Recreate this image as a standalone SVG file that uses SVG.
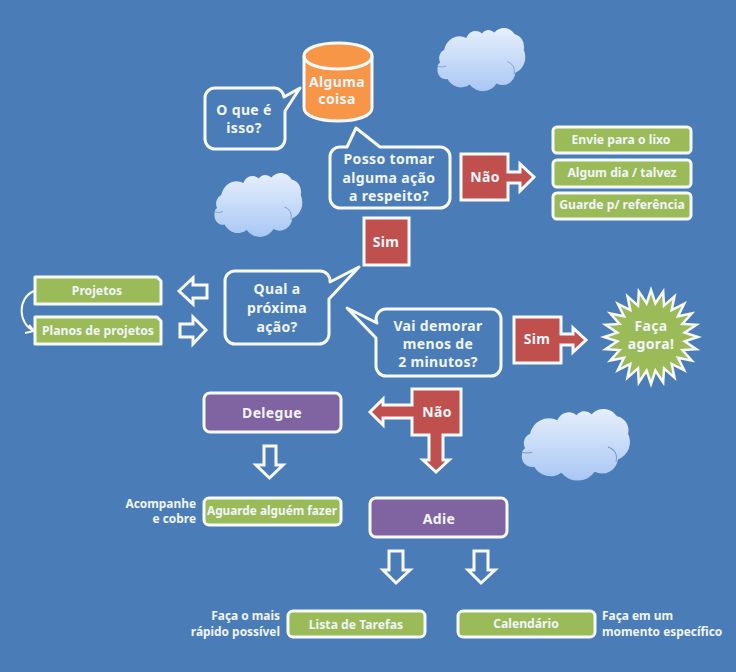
<svg xmlns="http://www.w3.org/2000/svg" width="736" height="672" viewBox="0 0 736 672">
<style>
text{font-family:"Noto Sans","DejaVu Sans",sans-serif;font-weight:700;fill:#f1f5fa;text-anchor:middle}
.m{font-size:14px;letter-spacing:.35px}.s{font-size:12.200px}.n{font-size:11.900px}
.a{font-size:11.800px}
.r{text-anchor:end}.l{text-anchor:start}
.w{stroke:#f7f9fb;stroke-width:3;stroke-linejoin:round}
.b{fill:#4a7db8}.red{fill:#c0504d;stroke-linejoin:miter}.g{fill:#9bbb59}.p{fill:#8064a2}.o{fill:#f79646}
.star{stroke-linejoin:miter;stroke-miterlimit:10;stroke-width:2.500px}
.h{fill:#4a7db8;stroke:#f7f9fb;stroke-width:3;stroke-linejoin:miter}
.c{fill:none;stroke:#f7f9fb;stroke-width:2}
</style>
<defs>
<linearGradient id="cg" x1="0" y1="0" x2="0" y2="1"><stop offset="0" stop-color="#e6effc"/><stop offset="1" stop-color="#a9c7f4"/></linearGradient>
<g id="cloud">
<path fill="url(#cg)" d="M10 24A19 19 0 0 1 37 11A12 12 0 0 1 56 6A10 10 0 0 1 71 5A16 16 0 0 1 96 7A14 14 0 0 1 107 24A18 18 0 0 1 97 49A16 16 0 0 1 74 61A21 21 0 0 1 41 62A19 19 0 0 1 14 56A10 10 0 0 1 2 44C2 40 3 40 5 38A10 10 0 0 1 10 24Z"/>
<path fill="none" stroke="#6f9bd2" stroke-width="1" d="M87 37C93 39 97 43 95 51M2 42C6 43 8 43 12 42"/>
</g>
</defs>
<rect id="background" width="736" height="672" fill="#4a7db8"/>
<g id="connectors">
<path class="h" d="M179 291L193 278V285H207V298H193V304Z"/>
<path class="h" d="M180 324H193V317L206 330L193 344V337H180Z"/>
<path class="h" d="M264 446H276V465H283L269.500 478L256 465H264Z"/>
<path class="h" d="M389 551H403V570H410L396 583L383 570H389Z"/>
<path class="h" d="M474 551H488V570H495L481 583L468 570H474Z"/>
<path class="c" d="M34 291C17 298 18 324 34 331M25 333L34 331L29 325"/>
</g>
<g id="cloud-1"><use href="#cloud" transform="translate(436 28) scale(.82 .91)"/></g>
<g id="cloud-2"><use href="#cloud" transform="translate(213 173) scale(.82 .92)"/></g>
<g id="cloud-3"><use href="#cloud" transform="translate(520 409) scale(1.010 1.030)"/></g>
<g id="alguma-coisa">
<path class="o w" d="M304 56C304 48 319 43 338 43S372 48 372 56V108C372 116 357 121 338 121S304 116 304 108Z"/>
<path class="w" fill="none" d="M304 56C304 64 319 69 338 69S372 64 372 56"/>
<text class="m" x="337" y="87">Alguma</text><text class="m" x="337" y="104">coisa</text>
</g>
<g id="o-que-e">
<path class="b w" d="M215 88H275A10 10 0 0 1 284 97L300 88L285 111V139A10 10 0 0 1 275 149H215A10 10 0 0 1 205 139V98A10 10 0 0 1 215 88Z"/>
<text class="m" x="244" y="115">O que é</text><text class="m" x="244" y="133">isso?</text>
</g>
<g id="posso-tomar">
<path class="b w" d="M340 147H347L356 128L380 147H440A10 10 0 0 1 450 157V198A10 10 0 0 1 440 208H340A10 10 0 0 1 330 198V157A10 10 0 0 1 340 147Z"/>
<text class="m" x="389" y="164">Posso tomar</text><text class="m" x="389" y="183">alguma ação</text><text class="m" x="389" y="201">a respeito?</text>
</g>
<g id="nao-1">
<path class="red w" d="M461 154H508V172H520V164L534 177L520 191V183H508V200H461Z"/>
<text class="m" x="485" y="182">Não</text>
</g>
<g id="lixo"><rect class="g w" x="553" y="127" width="138" height="26" rx="4"/><text class="s" x="621" y="144">Envie para o lixo</text></g>
<g id="algum-dia"><rect class="g w" x="553" y="160" width="138" height="27" rx="4"/><text class="s" x="622" y="177">Algum dia / talvez</text></g>
<g id="guarde"><rect class="g w" x="553" y="193" width="138" height="26" rx="4"/><text class="s" x="622" y="209">Guarde p/ referência</text></g>
<g id="sim-1">
<rect class="red w" x="364" y="218" width="45" height="47"/>
<text class="m" x="386" y="247">Sim</text>
</g>
<g id="qual">
<path class="b w" d="M235 271H320A10 10 0 0 1 330 282L359 267L329 299V334A10 10 0 0 1 319 344H235A10 10 0 0 1 225 334V281A10 10 0 0 1 235 271Z"/>
<text class="m" x="277" y="294">Qual a</text><text class="m" x="277" y="313">próxima</text><text class="m" x="277" y="332">ação?</text>
</g>
<g id="projetos"><path class="g w" d="M35 277H157L161 281V304H35Z"/><text class="s" x="97" y="295">Projetos</text></g>
<g id="planos"><path class="g w" d="M35 317H157L161 321V344H35Z"/><text class="s" x="98" y="335">Planos de projetos</text></g>
<g id="vai-demorar">
<path class="b w" d="M387 309H491A10 10 0 0 1 501 319V366A10 10 0 0 1 491 376H386A10 10 0 0 1 376 366V338L347 308L377 323A10 10 0 0 1 387 309Z"/>
<text class="m" x="438" y="331">Vai demorar</text><text class="m" x="438" y="349">menos de</text><text class="m" x="438" y="367">2 minutos?</text>
</g>
<g id="sim-2">
<path class="red w" d="M514 317H561V334H573V328L586 340L573 352V345H561V363H514Z"/>
<text class="m" x="537" y="344">Sim</text>
</g>
<g id="faca-agora">
<polygon class="g w star" points="651,290 655.400,303.300 663.200,291.600 664,305.600 674.500,296.300 671.700,310 684.200,303.800 678,316.300 691.700,313.500 682.400,324 696.400,324.800 684.700,332.600 698,337 684.700,341.400 696.400,349.200 682.400,350 691.700,360.500 678,357.700 684.200,370.200 671.700,364 674.500,377.700 664,368.400 663.200,382.400 655.400,370.700 651,384 646.600,370.700 638.800,382.400 638,368.400 627.500,377.700 630.300,364 617.800,370.200 624,357.700 610.300,360.500 619.600,350 605.600,349.200 617.300,341.400 604,337 617.300,332.600 605.600,324.800 619.600,324 610.300,313.500 624,316.300 617.800,303.800 630.300,310 627.500,296.300 638,305.600 638.800,291.600 646.600,303.300"/>
<text class="m" x="651" y="331">Faça</text><text class="m" x="651" y="349">agora!</text>
</g>
<g id="nao-2">
<path class="red w" d="M412 389H461V435H443V460H449L436 472L423 460H429V435H412V418H383V425L370 412L383 399V405H412Z"/>
<text class="m" x="437" y="417">Não</text>
</g>
<g id="delegue"><rect class="p w" x="204" y="393" width="137" height="39" rx="6"/><text class="m" x="272" y="418">Delegue</text></g>
<g id="aguarde"><rect class="g w" x="204" y="498" width="137" height="27" rx="5"/><text class="a" x="272" y="515">Aguarde alguém fazer</text></g>
<text class="n r" x="196" y="508">Acompanhe</text><text class="n r" x="196" y="523">e cobre</text>
<g id="adie"><rect class="p w" x="370" y="498" width="137" height="39" rx="6"/><text class="m" x="439" y="524">Adie</text></g>
<g id="lista"><rect class="g w" x="288" y="611" width="137" height="26" rx="5"/><text class="s" x="356" y="629">Lista de Tarefas</text></g>
<text class="n r" x="280" y="620">Faça o mais</text><text class="n r" x="280" y="636">rápido possível</text>
<g id="calendario"><rect class="g w" x="458" y="611" width="137" height="26" rx="5"/><text class="s" x="526" y="628">Calendário</text></g>
<text class="n l" x="602" y="620">Faça em um</text><text class="n l" x="602" y="636">momento específico</text>
</svg>
